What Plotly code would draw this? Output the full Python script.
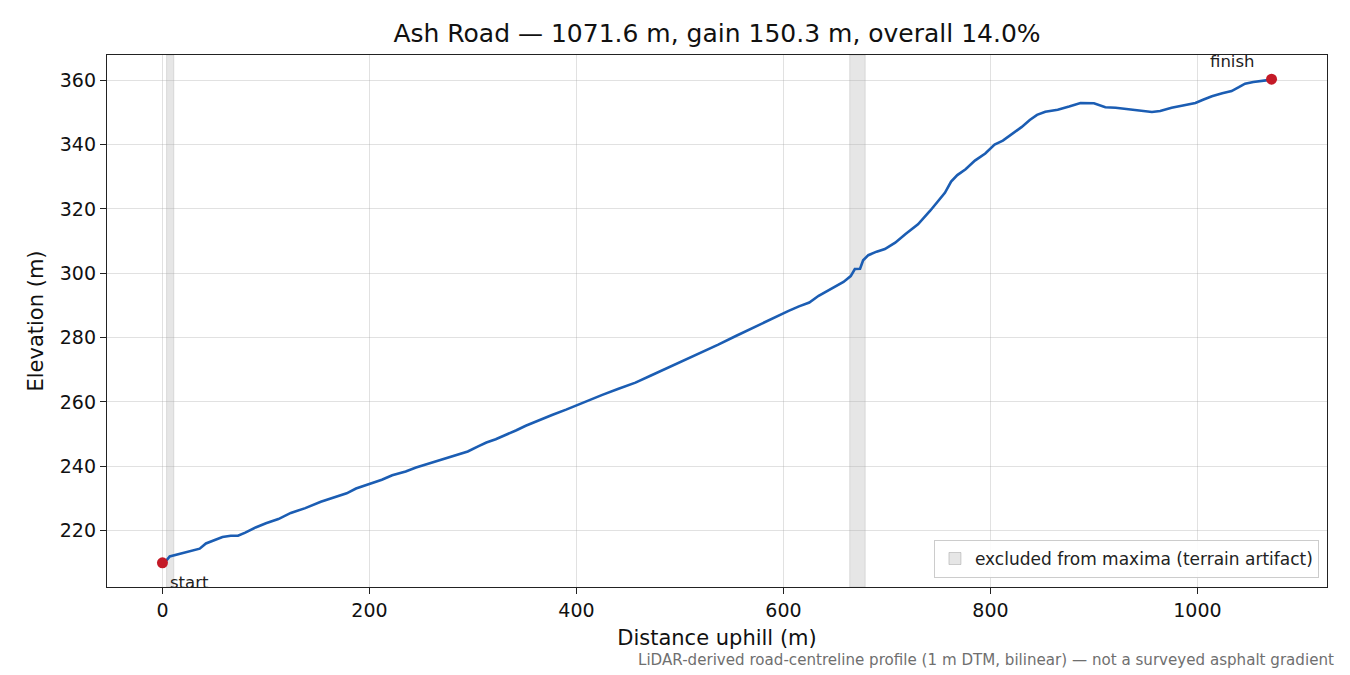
import plotly.graph_objects as go

# --- data ---
distance_m = [0, 4, 7, 12, 20, 30, 36, 42, 50, 58, 66, 73, 80, 90, 100, 112, 124, 138, 153,
              170, 178, 187, 200, 212, 222, 235, 245, 258, 270, 282, 295, 305, 313, 322, 332,
              342, 351, 362, 377, 390, 403, 415, 425, 440, 457, 472, 489, 505, 521, 537, 554,
              567, 580, 593, 605, 615, 625, 634, 642, 650, 658, 665, 669, 674, 677, 682, 690,
              698, 708, 718, 730, 742, 756, 762, 768, 776, 785, 795, 804, 812, 822, 830, 838,
              845, 853, 865, 876, 887, 900, 911, 921, 937, 956, 964, 975, 986, 998, 1006, 1014,
              1024, 1033, 1040, 1046, 1054, 1062, 1068, 1071.6]
elevation_m = [210.0, 210.8, 212.0, 212.4, 212.9, 213.7, 214.4, 216.0, 217.0, 218.0, 218.4, 218.4,
               219.4, 221.0, 222.3, 223.6, 225.5, 227.0, 229.0, 230.8, 231.6, 233.1, 234.4,
               235.8, 237.2, 238.4, 239.6, 240.9, 242.1, 243.1, 244.6, 246.2, 247.4, 248.4,
               249.7, 251.2, 252.6, 254.1, 256.0, 257.6, 259.4, 261.0, 262.2, 264.0, 266.0,
               268.2, 270.7, 273.0, 275.3, 277.8, 280.5, 282.5, 284.6, 286.5, 288.3, 289.7,
               290.9, 293.0, 294.4, 295.8, 297.3, 299.1, 301.3, 301.4, 304.0, 305.6, 306.7,
               307.5, 309.5, 312.2, 315.2, 319.5, 325.0, 328.5, 330.5, 332.3, 335.0, 337.2,
               340.0, 341.2, 343.5, 345.4, 347.6, 349.2, 350.2, 350.8, 351.8, 352.9, 352.8,
               351.6, 351.4, 350.7, 350.1, 350.4, 351.4, 352.1, 352.9, 354.0, 355.0, 355.9,
               356.6, 357.8, 358.9, 359.4, 359.7, 360.0, 360.3]

excluded_start = [4, 664]
excluded_end = [11, 679]

endpoint_labels = ["start", "finish"]
x_ticks = [0, 200, 400, 600, 800, 1000]
y_ticks = [220, 240, 260, 280, 300, 320, 340, 360]

title_text = "Ash Road — 1071.6 m, gain 150.3 m, overall 14.0%"
legend_text = "excluded from maxima (terrain artifact)"
footer_text = "LiDAR-derived road-centreline profile (1 m DTM, bilinear) — not a surveyed asphalt gradient"

FONT = "DejaVu Sans"
LINE_COLOR = "#1b5db3"
POINT_COLOR = "#c41a27"
BAND_COLOR = "rgba(128,128,128,0.2)"

x_span = distance_m[-1] - distance_m[0]
y_span = max(elevation_m) - min(elevation_m)
x_range = [distance_m[0] - 0.05 * x_span, distance_m[-1] + 0.05 * x_span]
y_range = [min(elevation_m) - 0.05 * y_span, max(elevation_m) + 0.05 * y_span]

fig = go.Figure()

# excluded bands
for xs, xe in zip(excluded_start, excluded_end):
    fig.add_vrect(x0=xs, x1=xe, fillcolor=BAND_COLOR, line=dict(color=BAND_COLOR, width=1),
                  layer="below")

# legend entry for excluded bands (rectangle patch)
fig.add_trace(go.Bar(x=[None], y=[None], name=legend_text, showlegend=True,
                     marker=dict(color=BAND_COLOR, line=dict(color="rgba(128,128,128,0.35)", width=1))))

fig.add_trace(go.Scatter(x=distance_m, y=elevation_m, mode="lines",
                         line=dict(color=LINE_COLOR, width=2.6), showlegend=False,
                         hoverinfo="skip"))

fig.add_trace(go.Scatter(x=[distance_m[0], distance_m[-1]], y=[elevation_m[0], elevation_m[-1]],
                         mode="markers", marker=dict(color=POINT_COLOR, size=11),
                         showlegend=False))

fig.add_annotation(x=distance_m[0], y=elevation_m[0], text=endpoint_labels[0], showarrow=False,
                   xanchor="left", yanchor="top", xshift=6, yshift=-8,
                   font=dict(family=FONT, size=16.5, color="#222"))
fig.add_annotation(x=distance_m[-1], y=elevation_m[-1], text=endpoint_labels[1], showarrow=False,
                   xanchor="center", yanchor="bottom", xshift=-39, yshift=6,
                   font=dict(family=FONT, size=16.5, color="#222"))

fig.add_annotation(xref="paper", yref="paper", x=1.0074, y=-0.137, text=footer_text,
                   showarrow=False, xanchor="right", yanchor="middle",
                   font=dict(family=FONT, size=15.1, color="#6f6f6f"))

axis_common = dict(showline=True, linecolor="#222", linewidth=1.3, mirror=True,
                   ticks="outside", ticklen=6, tickwidth=1.2, tickcolor="#222",
                   showgrid=True, gridcolor="rgba(170,170,170,0.35)", gridwidth=1,
                   zeroline=False, tickfont=dict(family=FONT, size=19, color="#111"))

fig.update_layout(
    width=1342, height=667,
    paper_bgcolor="white", plot_bgcolor="white",
    margin=dict(l=99, r=23, t=47, b=88),
    title=dict(text=title_text, x=0.5, xref="paper", xanchor="center", y=0.9625, yanchor="middle",
               font=dict(family=FONT, size=25, color="#111")),
    xaxis=dict(range=x_range, tickvals=x_ticks,
               title=dict(text="Distance uphill (m)", standoff=10,
                          font=dict(family=FONT, size=21, color="#111")),
               **axis_common),
    yaxis=dict(range=y_range, tickvals=y_ticks,
               title=dict(text="Elevation (m)", standoff=10,
                          font=dict(family=FONT, size=21, color="#111")),
               **axis_common),
    legend=dict(x=0.9934, y=0.017, xanchor="right", yanchor="bottom",
                bgcolor="rgba(255,255,255,0.9)", bordercolor="#cccccc", borderwidth=1,
                font=dict(family=FONT, size=17, color="#222")),
    font=dict(family=FONT),
)

fig.write_html("out.html")
